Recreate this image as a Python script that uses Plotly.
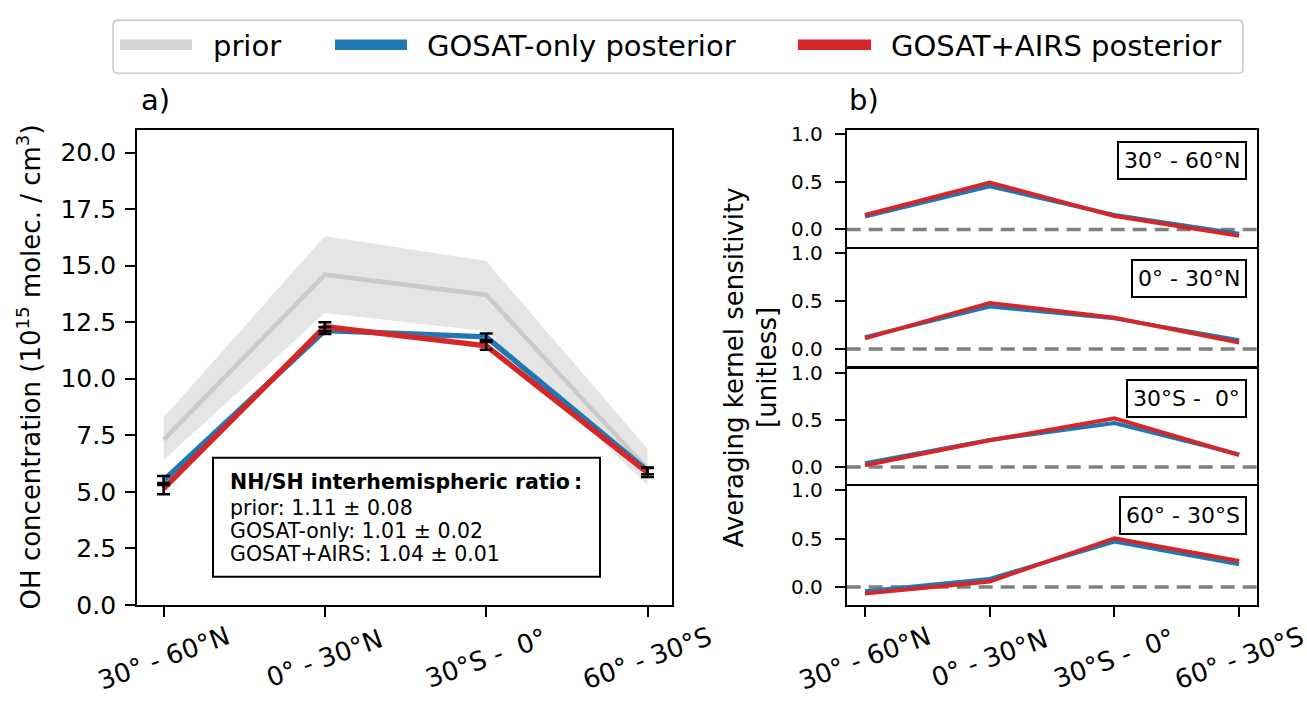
import plotly.graph_objects as go

W, H = 1307, 705
FONT = "DejaVu Sans"

# ---- data -------------------------------------------------------------
regions = ["30° - 60°N", "0° - 30°N", "30°S - \u00a00°", "60° - 30°S"]
xpos = [0, 1, 2, 3]

prior = [7.3, 14.6, 13.7, 6.0]
prior_upper = [8.3, 16.3, 15.2, 6.9]
prior_lower = [6.4, 12.9, 12.1, 5.3]
gosat = [5.5, 12.13, 11.85, 5.92]
gosat_err = [0.2, 0.15, 0.15, 0.15]
combined = [5.14, 12.3, 11.45, 5.85]
combined_err = [0.25, 0.2, 0.17, 0.2]

ak_gosat = [
    [0.134, 0.453, 0.151, -0.044],
    [0.124, 0.443, 0.319, 0.090],
    [0.040, 0.286, 0.465, 0.133],
    [-0.044, 0.084, 0.471, 0.236],
]
ak_combined = [
    [0.151, 0.493, 0.141, -0.067],
    [0.111, 0.480, 0.326, 0.067],
    [0.017, 0.282, 0.515, 0.126],
    [-0.067, 0.057, 0.505, 0.270],
]

ratio_title = "NH/SH interhemispheric ratio\u2009:"
ratio_lines = ["prior: 1.11 ± 0.08", "GOSAT-only: 1.01 ± 0.02", "GOSAT+AIRS: 1.04 ± 0.01"]

legend_labels = ["prior", "GOSAT-only posterior", "GOSAT+AIRS posterior"]

BLUE = "#1f77b4"
RED = "#d62728"
PRIOR_LINE = "rgba(192,192,192,0.75)"
PRIOR_FILL = "rgba(211,211,211,0.6)"
LEGEND_GRAY = "#d3d3d3"


def fx(p):
    return p / W


def fy(p):
    return 1 - p / H


fig = go.Figure()
shapes = []
annotations = []

# ---- panel a: OH concentrations ----------------------------------------
fig.add_trace(go.Scatter(x=xpos, y=prior_lower, mode="lines", line=dict(width=0),
                         showlegend=False, hoverinfo="skip", xaxis="x", yaxis="y"))
fig.add_trace(go.Scatter(x=xpos, y=prior_upper, mode="lines", line=dict(width=0),
                         fill="tonexty", fillcolor=PRIOR_FILL, showlegend=False,
                         hoverinfo="skip", xaxis="x", yaxis="y"))
fig.add_trace(go.Scatter(x=xpos, y=prior, mode="lines", line=dict(color=PRIOR_LINE, width=4.5),
                         showlegend=False, xaxis="x", yaxis="y"))
fig.add_trace(go.Scatter(x=xpos, y=gosat, mode="lines", line=dict(color=BLUE, width=5.5),
                         showlegend=False, xaxis="x", yaxis="y"))
fig.add_trace(go.Scatter(x=xpos, y=combined, mode="lines", line=dict(color=RED, width=5.5),
                         showlegend=False, xaxis="x", yaxis="y"))
for vals, errs in ((gosat, gosat_err), (combined, combined_err)):
    fig.add_trace(go.Scatter(
        x=xpos, y=vals, mode="markers",
        marker=dict(size=1, color="rgba(0,0,0,0)"),
        error_y=dict(type="data", array=errs, color="black", thickness=2.5, width=6.5),
        showlegend=False, xaxis="x", yaxis="y"))

# ---- panel b: averaging kernel rows -------------------------------------
edges = [126, 248, 371.7, 493.3, 617]
LW = 1.8
for i in range(4):
    xa, ya = f"x{i + 2}", f"y{i + 2}"
    shapes.append(dict(type="line", xref=f"{xa} domain", yref=ya, x0=0, x1=1, y0=0, y1=0,
                       line=dict(color="#808080", width=3.5, dash="14px,8px"), layer="below"))
    fig.add_trace(go.Scatter(x=xpos, y=ak_gosat[i], mode="lines", line=dict(color=BLUE, width=4),
                             showlegend=False, xaxis=xa, yaxis=ya))
    fig.add_trace(go.Scatter(x=xpos, y=ak_combined[i], mode="lines", line=dict(color=RED, width=4),
                             showlegend=False, xaxis=xa, yaxis=ya))

axis_common = dict(showgrid=False, zeroline=False, showline=True, linecolor="black",
                   linewidth=LW, mirror=True, ticks="outside", ticklen=10, tickwidth=1.8,
                   tickcolor="black")

layout_axes = {}
layout_axes["xaxis"] = dict(axis_common, domain=[fx(137), fx(671.7)], range=[-0.165, 3.15],
                            tickvals=xpos, showticklabels=False, anchor="y")
layout_axes["yaxis"] = dict(axis_common, domain=[fy(617), fy(126)], range=[0, 21],
                            tickvals=[0, 2.5, 5, 7.5, 10, 12.5, 15, 17.5, 20], tickformat=".1f",
                            tickfont=dict(family=FONT, size=25, color="black"),
                            ticklabelstandoff=4, anchor="x")
for i in range(4):
    last = i == 3
    # shared frame edges: pull neighbouring domains apart by one line width so the
    # outer-drawn axis lines coincide instead of doubling up
    top = edges[i] + (LW / 2 if i > 0 else 0)
    bottom = edges[i + 1] - (LW / 2 if i < 3 else 0)
    layout_axes[f"xaxis{i + 2}"] = dict(axis_common, domain=[fx(846.7), fx(1256.7)],
                                        range=[-0.147, 3.141], tickvals=xpos,
                                        ticks="outside" if last else "",
                                        showticklabels=False, anchor=f"y{i + 2}")
    layout_axes[f"yaxis{i + 2}"] = dict(axis_common, domain=[fy(bottom), fy(top)],
                                        range=[-0.185, 1.045], tickvals=[0, 0.5, 1.0],
                                        tickformat=".1f",
                                        tickfont=dict(family=FONT, size=20, color="black"),
                                        ticklabelstandoff=8, anchor=f"x{i + 2}")

# rotated category labels under both panels
for xa in ("x", "x5"):
    for i, lab in enumerate(regions):
        annotations.append(dict(xref=xa, yref="paper", x=xpos[i], y=fy(672), text=lab,
                                textangle=-20, showarrow=False, xanchor="center",
                                yanchor="middle", font=dict(family=FONT, size=26, color="black")))

# axis titles
annotations.append(dict(xref="paper", yref="paper", x=fx(29), y=fy(371.5),
                        text="OH concentration (10<sup>15</sup> molec. / cm<sup>3</sup>)",
                        textangle=-90, showarrow=False, xanchor="center", yanchor="middle",
                        font=dict(family=FONT, size=26, color="black")))
annotations.append(dict(xref="paper", yref="paper", x=fx(751), y=fy(371.5),
                        text="Averaging kernel sensitivity<br>[unitless]",
                        textangle=-90, showarrow=False, xanchor="center", yanchor="middle",
                        font=dict(family=FONT, size=26, color="black")))

# panel letters
for lab, xp in (("a)", 139), ("b)", 847)):
    annotations.append(dict(xref="paper", yref="paper", x=fx(xp), y=fy(95), text=lab,
                            showarrow=False, xanchor="left", yanchor="middle",
                            font=dict(family=FONT, size=29, color="black")))

# region tags inside the kernel rows
for i, lab in enumerate(regions):
    annotations.append(dict(xref="paper", yref="paper", x=fx(1247), y=fy(edges[i] + 11.5),
                            text=lab, showarrow=False, xanchor="right", yanchor="top",
                            bordercolor="black", borderwidth=2, borderpad=5, bgcolor="white",
                            font=dict(family=FONT, size=22, color="black")))

# interhemispheric ratio box
shapes.append(dict(type="rect", xref="paper", yref="paper", x0=fx(213), x1=fx(600),
                   y0=fy(588), y1=fy(465), line=dict(color="black", width=2),
                   fillcolor="white", layer="above"))
annotations.append(dict(xref="paper", yref="paper", x=fx(228), y=fy(490.5),
                        text=f"<b>{ratio_title}</b>", showarrow=False, xanchor="left",
                        yanchor="middle", font=dict(family=FONT, size=20.5, color="black")))
for txt, yc in zip(ratio_lines, (516.5, 540.5, 564)):
    annotations.append(dict(xref="paper", yref="paper", x=fx(228), y=fy(yc), text=txt,
                            showarrow=False, xanchor="left", yanchor="middle",
                            font=dict(family=FONT, size=20.5, color="black")))

# legend frame with rounded corners
x0, x1, y0, y1, r = fx(113), fx(1243), fy(12.5), fy(67.5), 5
rx, ry = r / W, r / H
path = (f"M {x0 + rx},{y0} L {x1 - rx},{y0} Q {x1},{y0} {x1},{y0 - ry} "
        f"L {x1},{y1 + ry} Q {x1},{y1} {x1 - rx},{y1} L {x0 + rx},{y1} "
        f"Q {x0},{y1} {x0},{y1 + ry} L {x0},{y0 - ry} Q {x0},{y0} {x0 + rx},{y0} Z")
shapes.append(dict(type="path", xref="paper", yref="paper", path=path,
                   line=dict(color="#cccccc", width=1.6), fillcolor="rgba(255,255,255,0.8)",
                   layer="above"))

legend_items = [
    (LEGEND_GRAY, 120, 192, 211),
    (BLUE, 335, 407, 425),
    (RED, 798, 871, 889),
]
for (col, lx0, lx1, tx), lab in zip(legend_items, legend_labels):
    shapes.append(dict(type="line", xref="paper", yref="paper", x0=fx(lx0), x1=fx(lx1),
                       y0=fy(38), y1=fy(38), line=dict(color=col, width=10.5), layer="above"))
    annotations.append(dict(xref="paper", yref="paper", x=fx(tx), y=fy(39), text=lab,
                            showarrow=False, xanchor="left", yanchor="middle",
                            font=dict(family=FONT, size=29, color="black")))

fig.update_layout(
    width=W, height=H, autosize=False,
    margin=dict(l=0, r=0, t=0, b=0, pad=0),
    paper_bgcolor="white", plot_bgcolor="white",
    font=dict(family=FONT, color="black"),
    showlegend=False,
    annotations=annotations,
    shapes=shapes,
    **layout_axes,
)

fig.write_html("out.html")
